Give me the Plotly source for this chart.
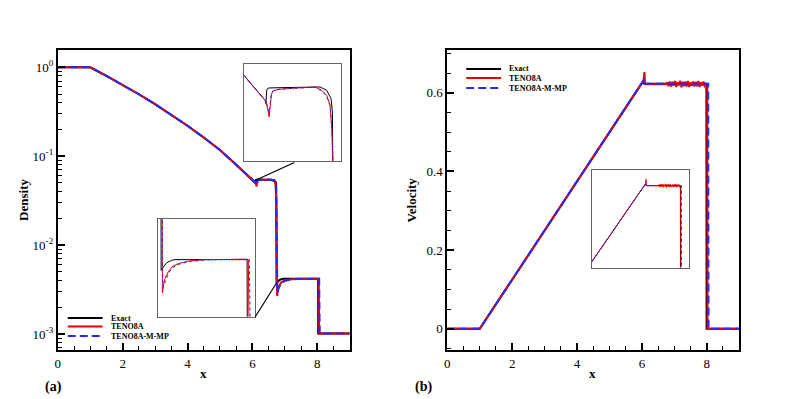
import plotly.graph_objects as go

W, H = 789, 399

# ---------------- data ----------------
# Panel (a): density
x_rho_exact = [0.0, 1.0, 1.5, 2.0, 2.5, 3.0, 3.5, 4.0, 4.5, 5.0, 5.5, 5.895, 6.093, 6.100, 6.109,
               6.128, 6.252, 6.617, 6.680, 6.721, 6.734, 6.736, 6.740, 6.745, 6.778, 6.829, 6.903,
               6.951, 8.027, 8.030, 9.0]
rho_exact = [1.0, 1.0, 0.800, 0.634, 0.497, 0.384, 0.293, 0.220, 0.162, 0.1175, 0.080, 0.0580, 0.0507,
             0.0497, 0.0540, 0.0544, 0.0545, 0.0547, 0.0537, 0.0512, 0.0472, 0.030, 0.0060, 0.00369,
             0.00384, 0.00403, 0.00414, 0.00417, 0.00417, 0.00101, 0.00101]

x_rho_teno = [0.0, 1.0, 1.5, 2.0, 2.5, 3.0, 3.5, 4.0, 4.5, 5.0, 5.5, 5.895, 6.081, 6.100, 6.119,
              6.131, 6.143, 6.152, 6.166, 6.221, 6.347, 6.569, 6.633, 6.680, 6.712, 6.728, 6.738,
              6.745, 6.755, 6.764, 6.784, 6.804, 6.852, 6.903, 7.0, 7.148, 7.395, 7.6, 7.8, 8.0,
              8.045, 8.055, 8.065, 9.0]
rho_teno = [1.0, 1.0, 0.800, 0.634, 0.497, 0.384, 0.293, 0.220, 0.162, 0.1175, 0.080, 0.0580, 0.0511,
            0.0505, 0.0478, 0.0457, 0.0493, 0.0523, 0.0535, 0.0540, 0.0543, 0.0547, 0.0537, 0.0522,
            0.0492, 0.0422, 0.0322, 0.020, 0.0060, 0.00267, 0.00309, 0.00333, 0.00362, 0.00384,
            0.00399, 0.00410, 0.00417, 0.00419, 0.00418, 0.00419, 0.00418, 0.0015, 0.00101, 0.00101]

x_rho_mmp = [0.0, 1.0, 1.5, 2.0, 2.5, 3.0, 3.5, 4.0, 4.5, 5.0, 5.5, 5.895, 6.081, 6.100, 6.120,
             6.130, 6.142, 6.152, 6.170, 6.225, 6.350, 6.565, 6.630, 6.678, 6.712, 6.730, 6.742,
             6.752, 6.770, 6.790, 6.810, 6.860, 6.910, 7.010, 7.160, 7.420, 7.700, 8.060, 8.075, 9.0]
rho_mmp = [1.0, 1.0, 0.800, 0.634, 0.497, 0.384, 0.293, 0.220, 0.162, 0.1175, 0.080, 0.0580, 0.0511,
           0.0506, 0.0485, 0.0470, 0.0500, 0.0525, 0.0536, 0.0540, 0.0543, 0.0546, 0.0536, 0.0520,
           0.0490, 0.0420, 0.030, 0.012, 0.0029, 0.00305, 0.00328, 0.00358, 0.00380, 0.00396,
           0.00408, 0.00416, 0.00418, 0.00418, 0.00101, 0.00101]

# Panel (b): velocity
x_u_exact = [0.0, 1.0, 6.05, 6.07, 7.99, 7.995, 9.0]
u_exact = [0.0, 0.0, 0.631, 0.623, 0.623, 0.0, 0.0]

x_u_teno = [0.0, 1.0, 6.05, 6.08, 6.095, 6.12, 6.74,
            6.78, 6.82, 6.86, 6.90, 6.94, 6.98, 7.02, 7.06, 7.10, 7.14, 7.18, 7.22, 7.26, 7.30,
            7.34, 7.38, 7.42, 7.46, 7.50, 7.54, 7.58, 7.62, 7.66, 7.70, 7.74, 7.78, 7.82, 7.86,
            7.90, 7.94, 8.015, 8.025, 9.0]
u_teno = [0.0, 0.0, 0.631, 0.653, 0.625, 0.622, 0.622,
          0.627, 0.617, 0.629, 0.616, 0.628, 0.618, 0.630, 0.615, 0.627, 0.619, 0.631, 0.614,
          0.628, 0.617, 0.629, 0.616, 0.630, 0.615, 0.626, 0.618, 0.629, 0.616, 0.628, 0.617,
          0.630, 0.615, 0.627, 0.618, 0.629, 0.617, 0.622, 0.0, 0.0]

x_u_mmp = [0.0, 1.0, 6.05, 6.07, 6.09, 8.045, 8.055, 9.0]
u_mmp = [0.0, 0.0, 0.631, 0.636, 0.623, 0.623, 0.0, 0.0]

x_ticks = [0, 2, 4, 6, 8]
x_ticklabels = ["0", "2", "4", "6", "8"]
x_minor = [0.5 * i for i in range(19)]
rho_ticks = [1.0, 0.1, 0.01, 0.001]
rho_ticklabels = ["10<sup>0</sup>", "10<sup>-1</sup>", "10<sup>-2</sup>", "10<sup>-3</sup>"]
rho_minor = [m * 10.0 ** e for e in (-4, -3, -2, -1) for m in range(2, 10)]
u_ticks = [0, 0.2, 0.4, 0.6]
u_ticklabels = ["0", "0.2", "0.4", "0.6"]
u_minor = [round(-0.05 + 0.05 * i, 2) for i in range(16)]

series_names = ["Exact", "TENO8A", "TENO8A-M-MP"]
series_colors = ["black", "rgb(235,0,0)", "rgb(40,40,255)"]

# ---------------- figure ----------------
def px(x):
    return x / W

def py(y):
    return 1 - y / H

FONT = "Liberation Serif"
fig = go.Figure()

main_dash = ["solid", "solid", "8px,4px"]
inset_dash = ["solid", "solid", "dot"]
rho_sets = [(x_rho_exact, rho_exact), (x_rho_teno, rho_teno), (x_rho_mmp, rho_mmp)]
u_sets = [(x_u_exact, u_exact), (x_u_teno, u_teno), (x_u_mmp, u_mmp)]

for (xs, ys), name, col, d in zip(rho_sets, series_names, series_colors, main_dash):
    fig.add_trace(go.Scatter(x=xs, y=ys, mode="lines", name=name, xaxis="x", yaxis="y",
                             line=dict(color=col, width=2, dash=d), showlegend=False))
for (xs, ys), name, col, d in zip(u_sets, series_names, series_colors, main_dash):
    fig.add_trace(go.Scatter(x=xs, y=ys, mode="lines", name=name, xaxis="x2", yaxis="y2",
                             line=dict(color=col, width=2, dash=d), showlegend=False))
# insets
for ax in ("3", "4"):
    for (xs, ys), name, col, d in zip(rho_sets, series_names, series_colors, inset_dash):
        fig.add_trace(go.Scatter(x=xs, y=ys, mode="lines", name=name, xaxis="x" + ax, yaxis="y" + ax,
                                 line=dict(color=col, width=1, dash=d), showlegend=False))
for (xs, ys), name, col, d in zip(u_sets, series_names, series_colors, inset_dash):
    fig.add_trace(go.Scatter(x=xs, y=ys, mode="lines", name=name, xaxis="x5", yaxis="y5",
                             line=dict(color=col, width=1, dash=d), showlegend=False))

tickfont = dict(family=FONT, size=13, color="black")

def main_x(dom):
    return dict(domain=dom, range=[0, 9], showline=True, mirror=True, linecolor="black", linewidth=2,
                ticks="inside", ticklen=7, tickwidth=1.5, tickcolor="black",
                tickmode="array", tickvals=x_ticks, ticktext=x_ticklabels, tickfont=tickfont,
                minor=dict(tickmode="array", tickvals=x_minor, ticks="inside", ticklen=4,
                           tickwidth=1, tickcolor="black"),
                showgrid=False, zeroline=False)

def inset_ax(dom, rng, anchor, typ="linear"):
    return dict(domain=dom, range=rng, anchor=anchor, type=typ, showline=True, mirror=True,
                linecolor="rgb(100,100,100)", linewidth=1, ticks="", showticklabels=False,
                showgrid=False, zeroline=False)

ydom = [py(350), py(50)]
fig.update_layout(
    width=W, height=H, autosize=False,
    margin=dict(l=0, r=0, t=0, b=0),
    paper_bgcolor="white", plot_bgcolor="white",
    showlegend=False,
    xaxis=dict(**main_x([px(55), px(348)]), anchor="y"),
    yaxis=dict(domain=ydom, type="log", range=[-3.18, 0.194], anchor="x",
               showline=True, mirror=True, linecolor="black", linewidth=2,
               ticks="inside", ticklen=7, tickwidth=1.5, tickcolor="black",
               tickmode="array", tickvals=rho_ticks, ticktext=rho_ticklabels, tickfont=tickfont,
               minor=dict(tickmode="array", tickvals=rho_minor, ticks="inside", ticklen=4,
                          tickwidth=1, tickcolor="black"),
               showgrid=False, zeroline=False),
    xaxis2=dict(**main_x([px(446), px(739)]), anchor="y2"),
    yaxis2=dict(domain=ydom, range=[-0.054, 0.709], anchor="x2",
                showline=True, mirror=True, linecolor="black", linewidth=2,
                ticks="inside", ticklen=7, tickwidth=1.5, tickcolor="black",
                tickmode="array", tickvals=u_ticks, ticktext=u_ticklabels, tickfont=tickfont,
                minor=dict(tickmode="array", tickvals=u_minor, ticks="inside", ticklen=4,
                           tickwidth=1, tickcolor="black"),
                showgrid=False, zeroline=False),
    xaxis3=inset_ax([px(242.3), px(339.7)], [5.895, 6.82], "y3"),
    yaxis3=inset_ax([py(161), py(64.3)], [0.0325, 0.0615], "x3"),
    xaxis4=inset_ax([px(155.7), px(253.3)], [6.70, 8.15], "y4"),
    yaxis4=inset_ax([py(316.7), py(219)], [0.0016, 0.006], "x4"),
    xaxis5=inset_ax([px(591), px(689)], [3.06, 8.49], "y5"),
    yaxis5=inset_ax([py(267.5), py(169.5)], [0.23, 0.70], "x5"),
)

shapes = []
# connector lines for the density insets
shapes.append(dict(type="line", xref="paper", yref="paper", x0=px(292.5), y0=py(162.5),
                   x1=px(253), y1=py(180.5), line=dict(color="black", width=1.2)))
shapes.append(dict(type="line", xref="paper", yref="paper", x0=px(253.3), y0=py(316.7),
                   x1=px(274.5), y1=py(283), line=dict(color="black", width=1.2)))

annotations = []
def add_legend(x0, x1, xt, ys):
    for y, name, col, d in zip(ys, series_names, series_colors, main_dash):
        shapes.append(dict(type="line", xref="paper", yref="paper", x0=px(x0), x1=px(x1),
                           y0=py(y), y1=py(y), line=dict(color=col, width=2, dash=d)))
        annotations.append(dict(x=px(xt), y=py(y), xref="paper", yref="paper", text="<b>%s</b>" % name,
                                showarrow=False, xanchor="left", yanchor="middle",
                                font=dict(family=FONT, size=8, color="black")))

add_legend(65, 100, 106, [318, 326.5, 336])
add_legend(465, 500, 506, [69, 78, 88])

def text(x, y, s, size=13, angle=0):
    annotations.append(dict(x=px(x), y=py(y), xref="paper", yref="paper", text=s, showarrow=False,
                            textangle=angle, xanchor="center", yanchor="middle",
                            font=dict(family=FONT, size=size, color="black")))

text(20, 200, "<b>Density</b>", 13, -90)
text(410, 200, "<b>Velocity</b>", 13, -90)
text(201.5, 373, "<b>x</b>", 13)
text(592, 373, "<b>x</b>", 13)
text(51, 387, "<b>(a)</b>", 14)
text(422, 387, "<b>(b)</b>", 14)

fig.update_layout(shapes=shapes, annotations=annotations)
fig.write_html("out.html", config={"displayModeBar": False},
               post_script="document.body.style.margin='0';document.body.style.padding='0';")
